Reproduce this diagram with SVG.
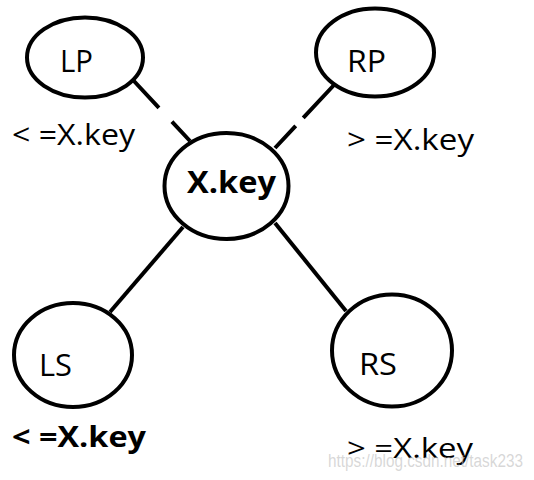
<svg xmlns="http://www.w3.org/2000/svg" width="534" height="480" viewBox="0 0 534 480">
  <style>
    .node ellipse { fill: #ffffff; stroke: #000000; stroke-width: 4; }
    .edge { stroke: #000000; stroke-width: 4; fill: none; }
    .t { font-family: "Open Sans", "Noto Sans", "DejaVu Sans", sans-serif; fill: #000000; }
    .wm { font-family: "Liberation Sans", Arial, sans-serif; fill: #bdbdbd; fill-opacity: 0.6; }
  </style>
  <rect width="534" height="480" fill="#ffffff"/>
  <g id="connectors">
    <line class="edge" x1="133" y1="80" x2="190" y2="141" stroke-dasharray="38 19"/>
    <line class="edge" x1="334" y1="85" x2="275" y2="148" stroke-dasharray="45 11"/>
    <line class="edge" x1="183" y1="227" x2="110" y2="312"/>
    <line class="edge" x1="275" y1="223" x2="346" y2="311"/>
  </g>
  <g id="node-lp" class="node">
    <ellipse cx="85" cy="57.5" rx="58" ry="40"/>
    <text class="t" x="60" y="72" font-size="31" textLength="33" lengthAdjust="spacingAndGlyphs">LP</text>
  </g>
  <g id="node-rp" class="node">
    <ellipse cx="375" cy="52.5" rx="59" ry="44"/>
    <text class="t" x="347" y="72" font-size="31" textLength="39" lengthAdjust="spacingAndGlyphs">RP</text>
  </g>
  <g id="node-x" class="node">
    <ellipse cx="226.5" cy="186" rx="62" ry="53"/>
    <text class="t" x="187" y="193" font-size="31" font-weight="bold" textLength="89" lengthAdjust="spacingAndGlyphs">X.key</text>
  </g>
  <g id="node-ls" class="node">
    <ellipse cx="73" cy="355" rx="59" ry="52"/>
    <text class="t" x="39" y="376" font-size="31" textLength="33" lengthAdjust="spacingAndGlyphs">LS</text>
  </g>
  <g id="node-rs" class="node">
    <ellipse cx="392" cy="350.5" rx="60" ry="56"/>
    <text class="t" x="359" y="375" font-size="31" textLength="38" lengthAdjust="spacingAndGlyphs">RS</text>
  </g>
  <g id="labels">
    <text class="t" x="12" y="145" font-size="30" textLength="123" lengthAdjust="spacingAndGlyphs">&lt; =X.key</text>
    <text class="t" x="347" y="150" font-size="30" textLength="127" lengthAdjust="spacingAndGlyphs">&gt; =X.key</text>
    <text class="t" x="12" y="447" font-size="28" font-weight="bold" textLength="134" lengthAdjust="spacingAndGlyphs">&lt; =X.key</text>
    <text class="t" x="347" y="458" font-size="28" textLength="126" lengthAdjust="spacingAndGlyphs">&gt; =X.key</text>
  </g>
  <text class="wm" x="328" y="467" font-size="18" textLength="195" lengthAdjust="spacingAndGlyphs">https://blog.csdn.net/task233</text>
</svg>
